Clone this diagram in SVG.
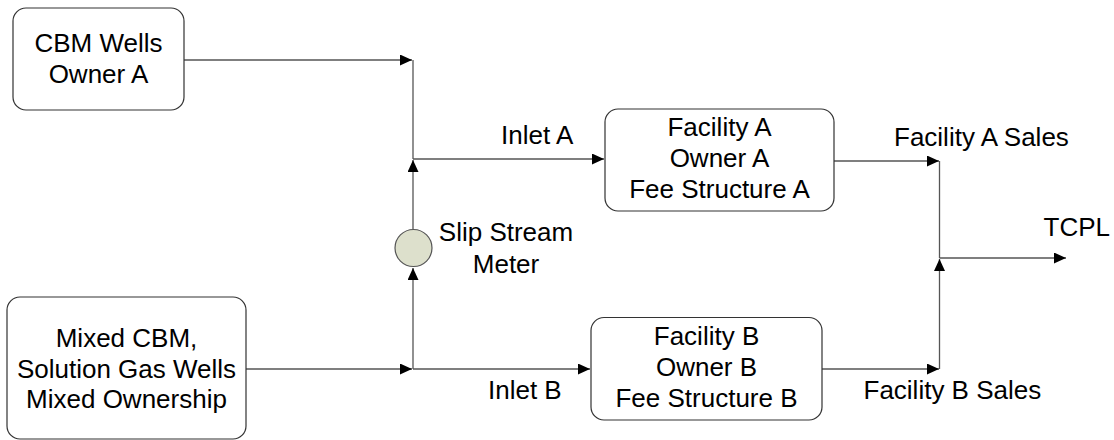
<svg xmlns="http://www.w3.org/2000/svg" width="1114" height="440" viewBox="0 0 1114 440">
<defs>
<marker id="arr" markerUnits="userSpaceOnUse" markerWidth="13" markerHeight="12" refX="12" refY="5.5" orient="auto">
<path d="M0,0 L12,5.5 L0,11 z" fill="#000"/>
</marker>
<style>
text{font-family:"Liberation Sans",Arial,sans-serif;font-size:26px;fill:#000}
.c{text-anchor:middle}
.box{fill:#fff;stroke:#333;stroke-width:1.2}
.ln{fill:none;stroke:#555;stroke-width:1.3}
.a{marker-end:url(#arr)}
</style>
</defs>
<rect width="1114" height="440" fill="#fff"/>
<g id="connectors">
<path class="ln a" d="M184,60 H412"/>
<path class="ln" d="M413,60 V159"/>
<path class="ln a" d="M413,229 V160"/>
<path class="ln a" d="M413,159 H604"/>
<path class="ln a" d="M246,369 H412"/>
<path class="ln a" d="M413,369 V268"/>
<path class="ln a" d="M413,369 H590"/>
<path class="ln a" d="M834,161 H939"/>
<path class="ln" d="M939.5,161 V258"/>
<path class="ln a" d="M822,369 H939"/>
<path class="ln a" d="M939.5,369 V259"/>
<path class="ln a" d="M939.5,258 H1066"/>
</g>
<g id="cbm-wells">
<rect class="box" x="13" y="8" width="171" height="102" rx="13"/>
<text class="c" x="98.5" y="52">CBM Wells</text>
<text class="c" x="98.5" y="83">Owner A</text>
</g>
<g id="mixed-wells">
<rect class="box" x="7" y="297" width="239" height="142" rx="13"/>
<text class="c" x="126.5" y="347">Mixed CBM,</text>
<text class="c" x="126.5" y="378">Solution Gas Wells</text>
<text class="c" x="126.5" y="408">Mixed Ownership</text>
</g>
<g id="meter">
<circle cx="413.5" cy="248" r="18.5" fill="#dde0cc" stroke="#555" stroke-width="1.2"/>
<text class="c" x="506" y="241">Slip Stream</text>
<text class="c" x="506" y="273">Meter</text>
</g>
<g id="facility-a">
<rect class="box" x="605" y="109" width="229" height="102" rx="13"/>
<text class="c" x="719.5" y="136">Facility A</text>
<text class="c" x="719.5" y="167">Owner A</text>
<text class="c" x="719.5" y="198">Fee Structure A</text>
</g>
<g id="facility-b">
<rect class="box" x="591" y="317.5" width="231" height="102.5" rx="13"/>
<text class="c" x="706.5" y="345">Facility B</text>
<text class="c" x="706.5" y="375.5">Owner B</text>
<text class="c" x="706.5" y="406.5">Fee Structure B</text>
</g>
<g id="labels">
<text x="501" y="144">Inlet A</text>
<text x="488" y="399">Inlet B</text>
<text x="894" y="146">Facility A Sales</text>
<text x="863.5" y="399">Facility B Sales</text>
<text x="1043.5" y="236">TCPL</text>
</g>
</svg>
